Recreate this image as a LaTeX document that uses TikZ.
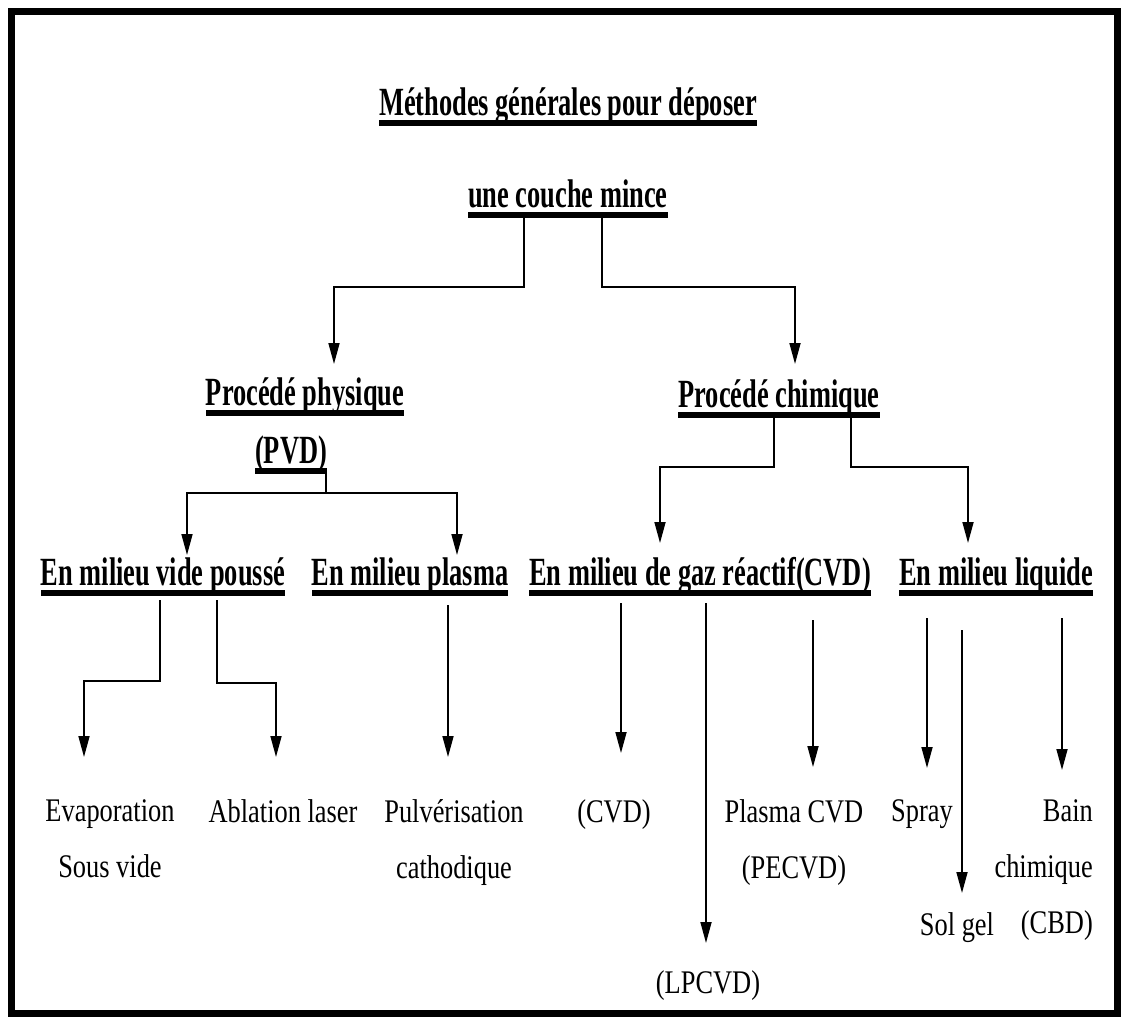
\documentclass[tikz,border=0pt]{standalone}
\usepackage{fontspec}
\setmainfont{Liberation Serif}[FakeStretch=0.8]
\newfontfamily\fontentete{Liberation Serif}[FakeStretch=0.66]
\usetikzlibrary{arrows.meta}
\newcommand{\souligne}[1]{\setbox0=\hbox{#1}\rlap{\rule[-11bp]{\wd0}{6bp}}\box0}

\begin{document}
\begin{tikzpicture}[>={Triangle[length=21bp,width=11bp]},
  entete/.style={font=\fontentete\bfseries\fontsize{40bp}{48bp}\selectfont, inner sep=0pt, anchor=base},
  feuille/.style={font=\fontsize{33bp}{56bp}\selectfont, inner sep=0pt, anchor=north, align=center},
  lien/.style={line width=1.7bp, ->}]
  \useasboundingbox (0bp,0bp) rectangle (1123bp,-1017bp);
  \draw[line width=7bp] (11bp,-11bp) rectangle (1117bp,-1013bp);

  % Titles
  \node (titre1) at (568bp,-115bp) [entete] {\souligne{Méthodes générales pour déposer}};
  \node (titre2) at (568bp,-207bp) [entete] {\souligne{une couche mince}};

  \node (physique) at (305bp,-405bp) [entete] {\souligne{Procédé physique}};
  \node (pvd) at (291bp,-463bp) [entete] {\souligne{(PVD)}};
  \node (chimique) at (779bp,-407bp) [entete] {\souligne{Procédé chimique}};

  \node (vide) at (163bp,-585bp) [entete] {\souligne{En milieu vide poussé}};
  \node (plasma) at (410bp,-585bp) [entete] {\souligne{En milieu plasma}};
  \node (gaz) at (700bp,-585bp) [entete] {\souligne{En milieu de gaz réactif(CVD)}};
  \node (liquide) at (996bp,-585bp) [entete] {\souligne{En milieu liquide}};

  % Methods
  \node (evap) at (110bp,-799bp) [feuille] {Evaporation\\Sous vide};
  \node (ablation) at (283bp,-799bp) [feuille] {Ablation laser};
  \node (pulve) at (454bp,-799bp) [feuille] {Pulvérisation\\cathodique};
  \node (cvd) at (614bp,-799bp) [feuille] {(CVD)};
  \node (lpcvd) at (708bp,-970bp) [feuille] {(LPCVD)};
  \node (pecvd) at (794bp,-799bp) [feuille] {Plasma CVD\\(PECVD)};
  \node (spray) at (922bp,-799bp) [feuille] {Spray};
  \node (solgel) at (957bp,-912bp) [feuille] {Sol gel};
  \node (bain) at (1093bp,-799bp) [feuille, align=right, anchor=north east] {Bain\\chimique\\(CBD)};

  % Edges
  \draw[lien] ([xshift=-44bp]titre2.south) -- ++(0bp,-69bp) -| ([xshift=29bp,yshift=41bp]physique.base);
  \draw[lien] ([xshift=34bp]titre2.south) -- ++(0bp,-69bp) -| ([xshift=16bp,yshift=43bp]chimique.base);

  \draw[lien] ([xshift=35bp]pvd.south) -- ++(0bp,-19bp) -| ([xshift=24bp,yshift=30bp]vide.base);
  \draw[lien] ([xshift=35bp]pvd.south) -- ++(0bp,-19bp) -| ([xshift=47bp,yshift=30bp]plasma.base);
  \draw[lien] ([xshift=-5bp]chimique.south) -- ++(0bp,-49bp) -| ([xshift=-40bp,yshift=42bp]gaz.base);
  \draw[lien] ([xshift=72bp]chimique.south) -- ++(0bp,-49bp) -| ([xshift=-28bp,yshift=42bp]liquide.base);

  \draw[lien] ([xshift=-3bp,yshift=-4bp]vide.south) -- ++(0bp,-81bp) -| ([xshift=-26bp,yshift=42bp]evap.north);
  \draw[lien] ([xshift=54bp,yshift=-4bp]vide.south) -- ++(0bp,-83bp) -| ([xshift=-7bp,yshift=42bp]ablation.north);
  \draw[lien] ([xshift=38bp,yshift=-9bp]plasma.south) -- ([xshift=-6bp,yshift=42bp]pulve.north);
  \draw[lien] ([xshift=-79bp,yshift=-7bp]gaz.south) -- ([xshift=7bp,yshift=46bp]cvd.north);
  \draw[lien] ([xshift=6bp,yshift=-7bp]gaz.south) -- ([xshift=-2bp,yshift=27bp]lpcvd.north);
  \draw[lien] ([xshift=113bp,yshift=-24bp]gaz.south) -- ([xshift=19bp,yshift=32bp]pecvd.north);
  \draw[lien] ([xshift=-69bp,yshift=-22bp]liquide.south) -- ([xshift=5bp,yshift=31bp]spray.north);
  \draw[lien] ([xshift=-34bp,yshift=-34bp]liquide.south) -- ([xshift=5bp,yshift=19bp]solgel.north);
  \draw[lien] ([xshift=66bp,yshift=-22bp]liquide.south) -- ([xshift=-31bp,yshift=29bp]bain.north east);
\end{tikzpicture}
\end{document}
